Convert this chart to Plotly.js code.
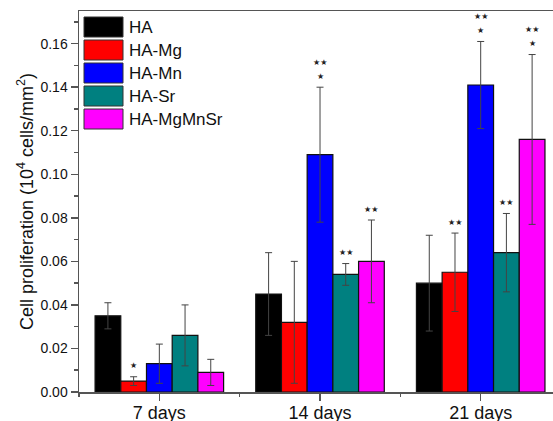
<!DOCTYPE html>
<html>
<head>
<meta charset="utf-8">
<script src="https://cdn.plot.ly/plotly-3.0.1.min.js"></script>
<style>html,body{margin:0;padding:0;background:#fff;}#chart{width:553px;height:421px;}</style>
</head>
<body>
<div id="chart"></div>
<script>
// ---- data ----
const categories = ['7 days', '14 days', '21 days'];
const seriesNames = ['HA', 'HA-Mg', 'HA-Mn', 'HA-Sr', 'HA-MgMnSr'];
const seriesColors = ['#000000', '#FF0000', '#0000FF', '#008080', '#FF00FF'];

const valHA       = [0.035, 0.045, 0.050];
const valHAMg     = [0.005, 0.032, 0.055];
const valHAMn     = [0.013, 0.109, 0.141];
const valHASr     = [0.026, 0.054, 0.064];
const valHAMgMnSr = [0.009, 0.060, 0.116];

const errHA       = [0.006, 0.019, 0.022];
const errHAMg     = [0.002, 0.028, 0.018];
const errHAMn     = [0.009, 0.031, 0.020];
const errHASr     = [0.014, 0.005, 0.018];
const errHAMgMnSr = [0.006, 0.019, 0.039];

// significance marks, top line first
const sigHA       = [[], [], []];
const sigHAMg     = [['★'], [], ['★★']];
const sigHAMn     = [[], ['★★', '★'], ['★★', '★']];
const sigHASr     = [[], ['★★'], ['★★']];
const sigHAMgMnSr = [[], ['★★'], ['★★', '★']];

const yTitle = 'Cell proliferation (10<sup>4</sup> cells/mm<sup>2</sup>)';

// ---- build ----
const values = [valHA, valHAMg, valHAMn, valHASr, valHAMgMnSr];
const errors = [errHA, errHAMg, errHAMn, errHASr, errHAMgMnSr];
const sigs = [sigHA, sigHAMg, sigHAMn, sigHASr, sigHAMgMnSr];
const FONT = '"Liberation Sans", Arial, sans-serif';
const xIdx = categories.map((_, i) => i);

const traces = seriesNames.map((name, s) => ({
  type: 'bar',
  name: name,
  x: xIdx,
  y: values[s],
  marker: {color: seriesColors[s], line: {color: '#111', width: 1.2}},
  error_y: {type: 'data', array: errors[s], visible: true, color: '#444', thickness: 1, width: 3.5},
  showlegend: false
}));

const nS = seriesNames.length;
const barW = 0.8 / nS;
const annotations = [];
sigs.forEach((sg, s) => {
  sg.forEach((lines, c) => {
    const n = lines.length;
    lines.forEach((txt, k) => {
      annotations.push({
        x: c + (s - (nS - 1) / 2) * barW,
        y: values[s][c] + errors[s][c],
        xref: 'x', yref: 'y',
        text: txt, showarrow: false,
        yanchor: 'middle',
        yshift: 11 + (n - 1 - k) * 14,
        font: {family: '"DejaVu Sans", sans-serif', size: 8, color: '#222'}
      });
    });
  });
});

// custom legend (large swatches)
const shapes = [];
seriesNames.forEach((name, s) => {
  shapes.push({
    type: 'rect', xref: 'paper', yref: 'paper',
    xsizemode: 'pixel', ysizemode: 'pixel', xanchor: 0, yanchor: 1,
    x0: 5, x1: 44, y0: -6 - s * 23, y1: -26 - s * 23,
    fillcolor: seriesColors[s], line: {color: '#333', width: 1}
  });
  annotations.push({
    xref: 'paper', yref: 'paper', x: 0, y: 1,
    xanchor: 'left', yanchor: 'middle',
    xshift: 48, yshift: -16 - s * 23,
    text: name, showarrow: false,
    font: {family: FONT, size: 17, color: '#111'}
  });
});

const layout = {
  width: 553, height: 421,
  margin: {l: 79, r: 0, t: 11, b: 29},
  paper_bgcolor: '#fff', plot_bgcolor: '#fff',
  font: {family: FONT, color: '#111'},
  barmode: 'group', bargap: 0.2, bargroupgap: 0,
  showlegend: false,
  xaxis: {
    range: [-0.5, 2.45],
    tickmode: 'array', tickvals: xIdx, ticktext: categories,
    ticks: 'outside', ticklen: 7, tickwidth: 1.5, tickcolor: '#555',
    ticklabelstandoff: -3,
    minor: {tickmode: 'linear', tick0: 0.5, dtick: 1, ticks: 'outside', ticklen: 3, tickwidth: 1.5, tickcolor: '#555'},
    showline: true, linecolor: '#555', linewidth: 1.5, mirror: true,
    showgrid: false, zeroline: false,
    tickfont: {family: FONT, size: 18, color: '#111'}
  },
  yaxis: {
    range: [0, 0.175],
    dtick: 0.02, tick0: 0, tickformat: '.2f',
    ticks: 'outside', ticklen: 7, tickwidth: 1.5, tickcolor: '#555',
    minor: {dtick: 0.01, ticks: 'outside', ticklen: 4, tickwidth: 1.5, tickcolor: '#555'},
    showline: true, linecolor: '#555', linewidth: 1.5,
    showgrid: false, zeroline: false,
    tickfont: {family: FONT, size: 14, color: '#111'},
    title: {text: yTitle, font: {family: FONT, size: 18, color: '#111'}, standoff: 2}
  },
  shapes: shapes,
  annotations: annotations
};

Plotly.newPlot('chart', traces, layout, {displayModeBar: false, staticPlot: true});
</script>
</body>
</html>
